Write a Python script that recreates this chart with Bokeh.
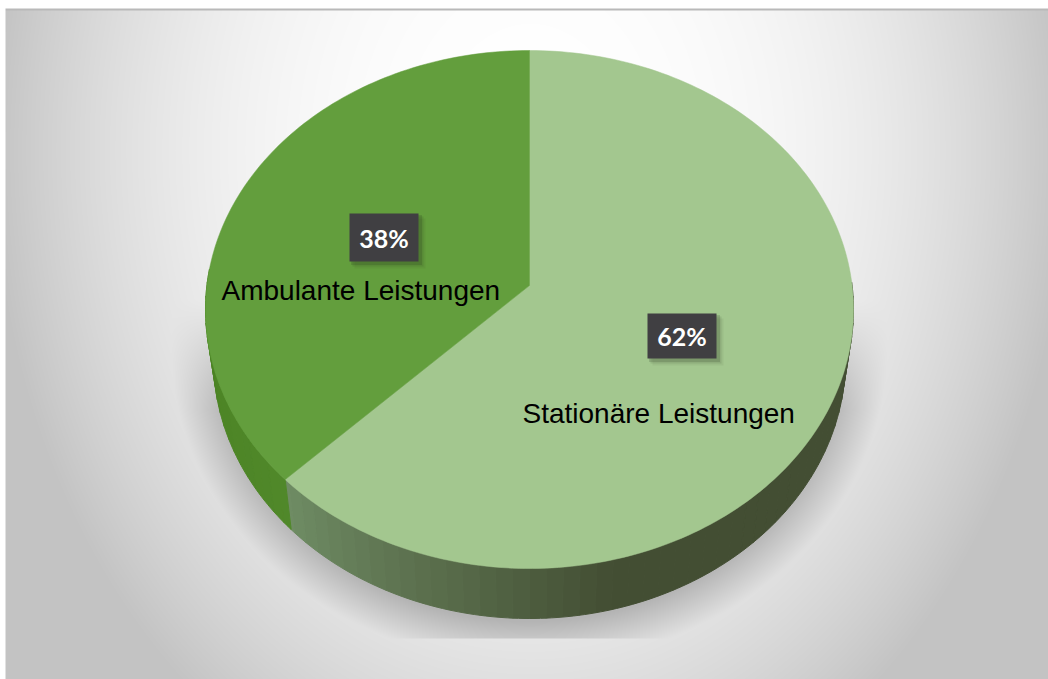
import numpy as np
from bokeh.plotting import figure
from bokeh.models import Range1d
from bokeh.core.properties import value
from bokeh.embed import file_html
from bokeh.resources import INLINE

# --- data
categories = ["Stationäre Leistungen", "Ambulante Leistungen"]
shares = [62, 38]
share_labels = ["62%", "38%"]

# --- layout (reference pixel coordinates, y measured downward)
W, H = 1048, 679
CX, CY, RX, RY = 529.0, 309.0, 324.0, 259.0   # top face ellipse
APEX_Y = 285.0                                # pie centre seen in perspective
DEPTH, RX_LOW = 50.0, 316.0                   # pie thickness
PERSP = 0.958                                 # perspective squeeze of the slice angle
COL_STAT, COL_AMB = "#a3c78f", "#639e3d"


def Y(py):
    return H - np.asarray(py, dtype=float)


def ell(t_deg, cx=CX, cy=CY, rx=RX, ry=RY):
    """t clockwise from the top of the ellipse, in degrees."""
    t = np.radians(t_deg)
    return cx + rx * np.sin(t), cy - ry * np.cos(t)


def mix(c1, c2, f):
    f = float(np.clip(f, 0, 1))
    a = [int(c1[i:i + 2], 16) for i in (1, 3, 5)]
    b = [int(c2[i:i + 2], 16) for i in (1, 3, 5)]
    return "#%02x%02x%02x" % tuple(round(a[i] + (b[i] - a[i]) * f) for i in range(3))


p = figure(width=W, height=H, output_backend="svg", toolbar_location=None,
           x_range=Range1d(0, W), y_range=Range1d(0, H),
           min_border=0, outline_line_color=None)
p.axis.visible = False
p.grid.visible = False

# --- backdrop: radial grey gradient plus the soft shadow below the pie
px = np.arange(W) + 0.5
py = H - np.arange(H) - 0.5      # row 0 is the bottom of the image
xx, yy = np.meshgrid(px, py)
d = np.sqrt(((xx - 530) / 540) ** 2 + ((yy - 150) / 700) ** 2)
grey = 255 - 60 * np.minimum(d, 1.0) ** 2.4
r = np.sqrt(((xx - 529) / 338) ** 2 + ((yy - 345) / 300) ** 2)
sh = np.clip((1.06 - r) / 0.14, 0, 1) * np.clip((yy - 300) / 110, 0, 1) * (yy < 638)
grey = grey * (1 - 0.22 * sh)
grey[yy < 10] = 185
grey[(yy < 8) | (xx < 5)] = 255
g = grey.astype(np.uint8).astype(np.uint32)
img = (255 << 24) | (g << 16) | (g << 8) | g
p.image_rgba(image=[img], x=0, y=0, dw=W, dh=H)

# --- slice boundary, from the values
frac_amb = shares[1] / sum(shares)
t_seam = 360 - 360 * frac_amb * PERSP

# --- side wall, in strips so that it can carry its gradient
ts = np.arange(84, 282, 3.0)
ts = np.unique(np.append(ts, t_seam))
for a, b in zip(ts[:-1], ts[1:]):
    ta = np.linspace(a, b, 4)
    ux, uy = ell(ta)
    lx, ly = ell(ta, cy=CY + DEPTH, rx=RX_LOW)
    m = (a + b) / 2
    if m < t_seam:
        f = (m - 165) / (t_seam - 165)
        col = mix("#434e33", "#6f8c64", f)
    else:
        col = mix("#50882a", "#4b8323", (m - t_seam) / 40)
    xs = np.concatenate([ux, lx[::-1]])
    ys = np.concatenate([uy, ly[::-1]])
    p.patch(xs, Y(ys), fill_color=col, line_color=col, line_width=1)

# --- top face
ta = np.linspace(0, t_seam, 200)
ex, ey = ell(ta)
p.patch(np.r_[CX, ex], Y(np.r_[APEX_Y, ey]), fill_color=COL_STAT, line_color=COL_STAT, line_width=0.5)
ta = np.linspace(t_seam, 360, 120)
ex, ey = ell(ta)
p.patch(np.r_[CX, ex], Y(np.r_[APEX_Y, ey]), fill_color=COL_AMB, line_color=COL_AMB, line_width=0.5)

# --- labels: (percent box centre, category text start), relative to the pie centre
label_pos = {0: ((152.5, 335.5 - CY), (-7, 413 - CY)), 1: ((-145.5, 237 - CY), (-308, 290 - CY))}
box_w = 69
box_h = {0: 45, 1: 48}
for i in range(2):
    (bx, by), (tx, ty) = label_pos[i]
    bx, by = CX + bx, CY + by
    for off, al in ((6, 0.06), (4, 0.10), (2.5, 0.16)):
        p.rect(bx + off, Y(by + off), width=box_w + 2, height=box_h[i] + 2,
               fill_color="#202a18", fill_alpha=al, line_color=None)
    p.rect(bx, Y(by), width=box_w, height=box_h[i], fill_color="#403f42", line_color=None)
    p.text([bx], [Y(by)], text=[share_labels[i]], text_color="white", text_align="center",
           text_baseline="middle", text_font=value("Lato"), text_font_style="bold",
           text_font_size="25px")
    p.text([CX + tx], [Y(CY + ty)], text=[categories[i]], text_color="#000000", text_align="left",
           text_baseline="middle", text_font=value("Liberation Sans"), text_font_size="28px")

open("out.html", "w").write(file_html(p, INLINE))
